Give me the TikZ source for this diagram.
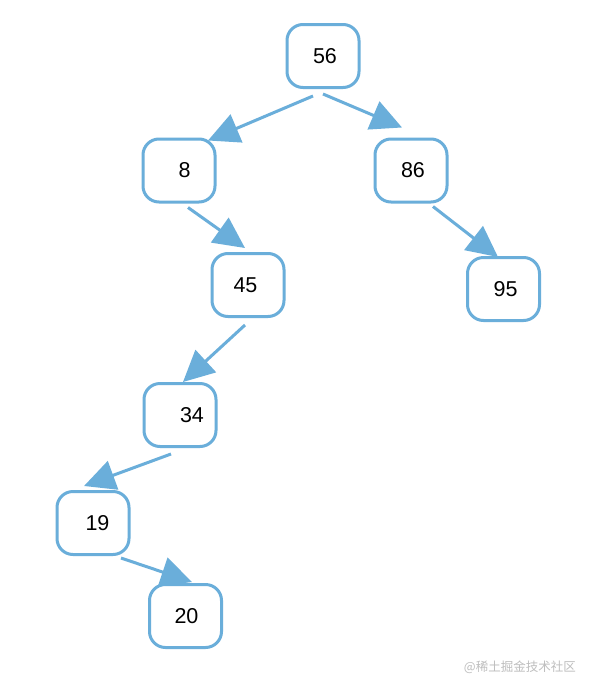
\documentclass[tikz,border=0pt]{standalone}
\usepackage{fontspec}
\setmainfont{Liberation Sans}
\newfontfamily\cjkfont{Noto Sans CJK SC}
\usetikzlibrary{arrows.meta,calc}
\definecolor{treeblue}{RGB}{106,174,218}
\definecolor{wmgray}{RGB}{190,190,190}
\tikzset{
  treebox/.style={draw=treeblue, line width=3pt, rounded corners=16pt, minimum width=72pt, minimum height=63pt, inner sep=0pt, font=\fontsize{21.5}{24}\selectfont, text=black},
  treearrow/.style={draw=treeblue, line width=3pt, -{Triangle[length=31pt,width=30pt]}}
}
\begin{document}
\begin{tikzpicture}[x=1pt,y=-1pt]
\useasboundingbox (0,0) rectangle (594,694);
\fill[white] (0,0) rectangle (594,694);
\node[treebox] (n56) at (323,56) {\hspace*{4pt}56};
\node[treebox] (n8) at (179,170.5) {\hspace*{11pt}8};
\node[treebox] (n86) at (411,170.5) {\hspace*{4pt}86};
\node[treebox] (n45) at (248,285) {45\hspace*{5pt}};
\node[treebox] (n95) at (503.5,289) {\hspace*{4pt}95};
\node[treebox] (n34) at (180,415) {\hspace*{24pt}34};
\node[treebox] (n19) at (93,523) {\hspace*{9pt}19};
\node[treebox] (n20) at (185.5,616) {\hspace*{2pt}20};
\draw[treearrow] ($(n56.south)+(-10,7)$) -- ($(n8.north)+(29,3)$);
\draw[treearrow] ($(n56.south)+(0,5)$) -- ($(n86.north)+(-9,-10)$);
\draw[treearrow] ($(n8.south)+(9,4)$) -- ($(n45.north)+(-3,-4)$);
\draw[treearrow] ($(n86.south)+(22,3)$) -- ($(n95.north)+(-5.5,1)$);
\draw[treearrow] ($(n45.south)+(-3,7)$) -- ($(n34.north)+(3,0)$);
\draw[treearrow] ($(n34.south)+(-9,6)$) -- ($(n19.north)+(-9,-4)$);
\draw[treearrow] ($(n19.south)+(28,2)$) -- ($(n20.north)+(6.5,-1)$);
\node[anchor=east, text=wmgray, font=\cjkfont\fontsize{12.5}{14}\selectfont, inner sep=0pt] (wm) at (576,667) {@稀土掘金技术社区};
\end{tikzpicture}
\end{document}
